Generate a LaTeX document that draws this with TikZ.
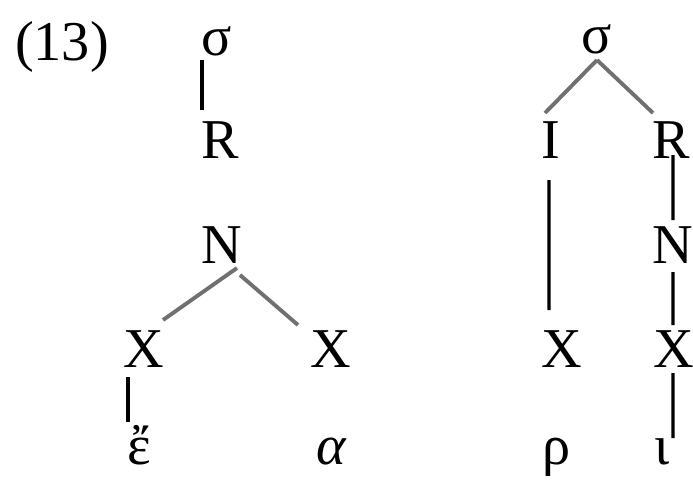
\documentclass[tikz,border=0pt]{standalone}
\usepackage{fontspec}
\setmainfont{Liberation Serif}
\usepackage{tikz}
\definecolor{branchgray}{RGB}{112,112,112}
\tikzset{
  seg/.style = {anchor = base, inner sep = 0pt, font = \fontsize{16}{19}\selectfont},
  stem/.style = {line width = 0.9pt, color = black},
  branch/.style = {line width = 1.1pt, color = branchgray}
}

\begin{document}
\begin{tikzpicture}
\useasboundingbox (0, 0) rectangle (6.93, -4.79);
\node (ex) [seg] at (0.62, -0.60) {(13)};
% left tree
\node (sig1) [seg] at (2.17, -0.55) {σ};
\node (rim1) [seg] at (2.20, -1.58) {R};
\node (nuc1) [seg] at (2.22, -2.63) {N};
\node (xa) [seg] at (1.44, -3.67) {X};
\node (xb) [seg] at (3.31, -3.67) {X};
\node (eps) [seg] at (1.39, -4.64) {ἔ};
\node (alf) [seg] at (3.31, -4.64) {\itshape α};
\draw [stem] ([xshift = -0.15cm, yshift = -0.05cm]sig1.base) to ([xshift = -0.18cm, yshift = 0.48cm]rim1.base);
\draw [branch] ([xshift = 0.15cm, yshift = -0.05cm]nuc1.base) to ([xshift = 0.19cm, yshift = 0.47cm]xa.base);
\draw [branch] ([xshift = 0.18cm, yshift = -0.12cm]nuc1.base) to ([xshift = -0.33cm, yshift = 0.42cm]xb.base);
\draw [stem] ([xshift = -0.16cm, yshift = -0.10cm]xa.base) to ([xshift = -0.11cm, yshift = 0.42cm]eps.base);
% right tree
\node (sig2) [seg] at (5.97, -0.53) {σ};
\node (ons2) [seg] at (5.51, -1.58) {I};
\node (rim2) [seg] at (6.71, -1.58) {R};
\node (nuc2) [seg] at (6.73, -2.63) {N};
\node (xc) [seg] at (5.62, -3.67) {X};
\node (xd) [seg] at (6.74, -3.67) {X};
\node (rho) [seg] at (5.57, -4.64) {ρ};
\node (iot) [seg] at (6.62, -4.64) {ι};
\draw [branch] ([yshift = -0.07cm]sig2.base) to ([xshift = -0.06cm, yshift = 0.45cm]ons2.base);
\draw [branch] ([yshift = -0.07cm]sig2.base) to ([xshift = -0.18cm, yshift = 0.45cm]rim2.base);
\draw [stem] ([xshift = -0.02cm, yshift = -0.22cm]ons2.base) to ([xshift = -0.13cm, yshift = 0.57cm]xc.base);
\draw [stem] ([xshift = 0.02cm, yshift = 0.03cm]rim2.base) to ([yshift = 0.43cm]nuc2.base);
\draw [stem] ([yshift = -0.09cm]nuc2.base) to ([xshift = -0.01cm, yshift = 0.42cm]xd.base);
\draw [stem] ([xshift = -0.01cm, yshift = -0.06cm]xd.base) to ([xshift = 0.11cm, yshift = 0.26cm]iot.base);
\end{tikzpicture}
\end{document}
